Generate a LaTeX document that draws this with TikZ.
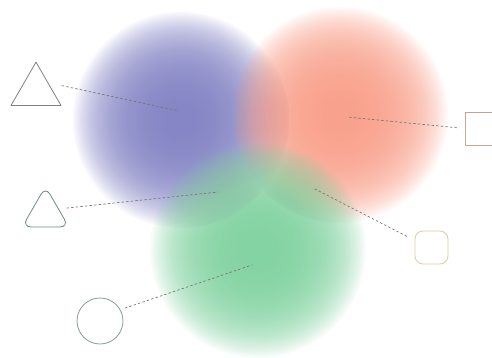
\documentclass[tikz,border=0pt]{standalone}
\usetikzlibrary{shapes.geometric}
\definecolor{blobblue}{RGB}{126,126,194}
\definecolor{blobred}{RGB}{248,156,134}
\definecolor{blobgreen}{RGB}{124,208,156}
\definecolor{linegray}{RGB}{118,118,118}
\definecolor{shapegray}{RGB}{128,128,128}
\definecolor{shapeteal}{RGB}{108,138,138}
\definecolor{shapesage}{RGB}{138,156,148}
\definecolor{shapetan}{RGB}{196,164,148}
\definecolor{shapesand}{RGB}{214,206,160}
\tikzset{
  link/.style={draw=linegray, line width=0.7pt, dash pattern=on 2pt off 2.6pt},
  outline/.style={draw, line width=0.8pt, inner sep=0pt, fill=none},
  tri/.style={outline, regular polygon, regular polygon sides=3}
}
\begin{document}
\begin{tikzpicture}[x=1pt,y=-1pt,line join=round,line cap=round]
\def \w{492}\def \h{358}\def \r{108}\def \n{50}
\useasboundingbox (0,0) rectangle (\w,\h);
\foreach \c/\x/\y in {blobblue/181/120, blobred/340/115, blobgreen/258/250}
  \foreach \k in {1,...,\n}
    \fill[\c, opacity=0.055] (\x,\y) circle({\r*(1-0.85*(\k-1)/\n)});
\node[tri, draw=shapegray, minimum size=57.7pt] (triA) at (36,91) {};
\node[tri, draw=shapeteal, rounded corners=9pt, minimum size=54pt] (triB) at (45.5,213.5) {};
\node[outline, draw=shapesage, circle, minimum size=46pt] (ringC) at (100,321) {};
\node[outline, draw=shapetan, minimum size=33pt] (boxD) at (481.5,128.5) {};
\node[outline, draw=shapesand, rounded corners=8pt, minimum size=33pt] (boxE) at (431.5,247.5) {};
\coordinate (pA) at (179,111);
\coordinate (pB) at (218,192);
\coordinate (pC) at (252,265);
\coordinate (pD) at (347,117);
\coordinate (pE) at (313,188);
\foreach \s/\p/\g in {triA.34/pA/14, triB.19/pB/8, ringC.29/pC/5, boxD.west/pD/8, boxE.157/pE/9}
  \draw[link, shorten <=\g pt] (\s) -- (\p);
\end{tikzpicture}
\end{document}
